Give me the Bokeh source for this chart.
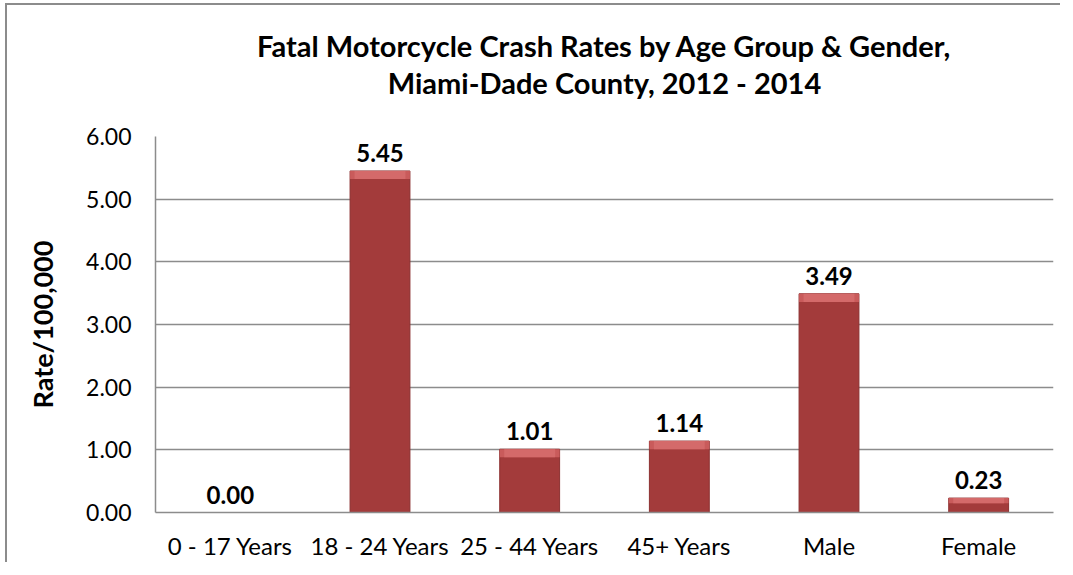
from bokeh.plotting import figure
from bokeh.models import Range1d, Title, NumeralTickFormatter, FixedTicker, ColumnDataSource
from bokeh.core.properties import value
from bokeh.embed import file_html
from bokeh.resources import INLINE

categories = ["0 - 17 Years", "18 - 24 Years", "25 - 44 Years", "45+ Years", "Male", "Female"]
rates = [0.00, 5.45, 1.01, 1.14, 3.49, 0.23]
rate_labels = ["0.00", "5.45", "1.01", "1.14", "3.49", "0.23"]
y_ticks = [0, 1, 2, 3, 4, 5, 6]
title_line1 = "Fatal Motorcycle Crash Rates by Age Group & Gender,"
title_line2 = "Miami-Dade County, 2012 - 2014"

FONT = "Lato"

p = figure(x_range=categories, y_range=Range1d(0, 6), width=1060, height=562,
           output_backend="svg", toolbar_location=None,
           min_border_left=155, min_border_right=7, min_border_bottom=50, min_border_top=136)
p.border_fill_color = None
p.styles = {"box-shadow": "inset 5px 3px 0 0 #FFFFFF, inset 7px 5px 0 0 #8C8C8C"}

# spacer between plot area and title
p.add_layout(Title(text=" ", text_font_size="1px", standoff=34), "above")
p.add_layout(Title(text=title_line2, align="center",
                   text_font=FONT, text_font_size="29px", text_font_style="bold",
                   text_color="#000000", standoff=0, offset=0), "above")
p.add_layout(Title(text=title_line1, align="center",
                   text_font=FONT, text_font_size="29px", text_font_style="bold",
                   text_color="#000000", standoff=0, offset=0), "above")

src = ColumnDataSource(dict(cat=categories, rate=rates, lab=rate_labels,
                            bev=[r - min(0.13, r * 0.35) for r in rates]))

# bar body
p.vbar(x="cat", top="rate", bottom=0, width=0.4, source=src,
       fill_color="#A33B3B", line_color="#8C3131", line_width=1)
# top bevel highlight
p.vbar(x="cat", top="rate", bottom="bev", width=0.4, source=src,
       fill_color="#C95B5B", line_color=None)
p.vbar(x="cat", top="rate", bottom="bev", width=0.34, source=src,
       fill_color="#D46A6A", line_color=None)

p.text(x="cat", y="rate", text="lab", source=src, text_align="center", text_baseline="bottom",
       y_offset=-9, text_font=value(FONT), text_font_size="24px", text_font_style="bold",
       text_color="#000000")

p.outline_line_color = None
p.xgrid.grid_line_color = None
p.ygrid.grid_line_color = "#8C8C8C"
p.ygrid.grid_line_width = 1.5
p.yaxis.ticker = FixedTicker(ticks=y_ticks)
p.yaxis.formatter = NumeralTickFormatter(format="0.00")

for ax in (p.xaxis, p.yaxis):
    ax.major_tick_line_color = None
    ax.minor_tick_line_color = None
    ax.major_tick_out = 0
    ax.major_tick_in = 0
    ax.axis_line_color = "#8C8C8C"
    ax.axis_line_width = 1.5
    ax.major_label_text_font = FONT
    ax.major_label_text_color = "#000000"

p.xaxis.major_label_text_font_size = "24px"
p.yaxis.major_label_text_font_size = "23px"
p.xaxis.major_label_standoff = 18
p.yaxis.major_label_standoff = 24
p.yaxis.axis_label = "Rate/100,000"
p.yaxis.axis_label_text_font = FONT
p.yaxis.axis_label_text_font_size = "27px"
p.yaxis.axis_label_text_font_style = "bold"
p.yaxis.axis_label_text_color = "#000000"
p.yaxis.axis_label_standoff = 24

open("out.html", "w").write(file_html(p, INLINE))
